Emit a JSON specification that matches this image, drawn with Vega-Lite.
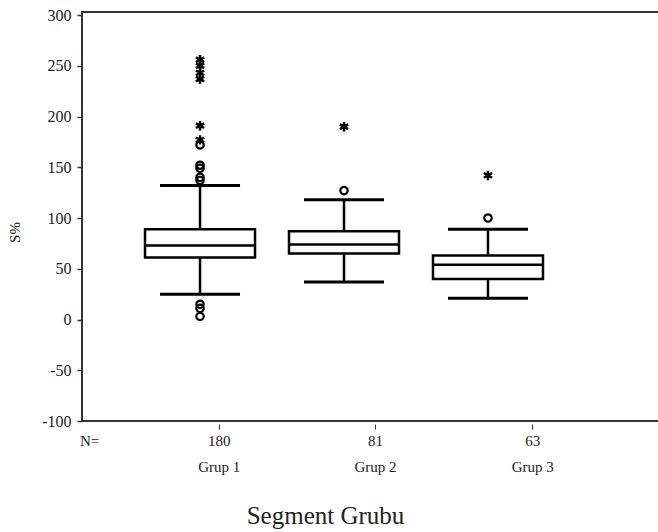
{
  "$schema": "https://vega.github.io/schema/vega-lite/v6.json",
  "autosize": {"type": "none"},
  "padding": {"left": 82, "top": 12, "right": 0, "bottom": 111},
  "width": 578,
  "height": 409,
  "background": "white",
  "config": {
    "view": {"stroke": "#333333", "strokeWidth": 2},
    "font": "Liberation Serif",
    "axis": {"labelFont": "Liberation Serif", "titleFont": "Liberation Serif"}
  },
  "datasets": {
    "box": [
      {"grup": 1, "n": 180, "lo": 25, "q1": 61, "med": 73, "q3": 89, "hi": 132},
      {"grup": 2, "n": 81, "lo": 37, "q1": 65, "med": 74, "q3": 87, "hi": 118},
      {"grup": 3, "n": 63, "lo": 21, "q1": 40, "med": 54, "q3": 63, "hi": 89}
    ],
    "out": [
      {"grup": 1, "v": 256, "kind": "extreme"},
      {"grup": 1, "v": 250, "kind": "extreme"},
      {"grup": 1, "v": 243, "kind": "extreme"},
      {"grup": 1, "v": 237, "kind": "extreme"},
      {"grup": 1, "v": 191, "kind": "extreme"},
      {"grup": 1, "v": 177, "kind": "extreme"},
      {"grup": 1, "v": 172, "kind": "outlier"},
      {"grup": 1, "v": 152, "kind": "outlier"},
      {"grup": 1, "v": 149, "kind": "outlier"},
      {"grup": 1, "v": 140, "kind": "outlier"},
      {"grup": 1, "v": 137, "kind": "outlier"},
      {"grup": 1, "v": 15, "kind": "outlier"},
      {"grup": 1, "v": 11, "kind": "outlier"},
      {"grup": 1, "v": 3, "kind": "outlier"},
      {"grup": 2, "v": 190, "kind": "extreme"},
      {"grup": 2, "v": 127, "kind": "outlier"},
      {"grup": 3, "v": 142, "kind": "extreme"},
      {"grup": 3, "v": 100, "kind": "outlier"}
    ]
  },
  "encoding": {
    "x": {
      "field": "grup",
      "type": "quantitative",
      "scale": {"domain": [0.215, 4.16], "nice": false, "zero": false},
      "axis": {
        "values": [0.229, 1.13, 2.215, 3.307],
        "domain": false,
        "grid": false,
        "offset": 3,
        "tickSize": 5,
        "tickWidth": 1,
        "tickColor": "#333333",
        "tickOpacity": {"condition": {"test": "datum.value < 0.5", "value": 0}, "value": 1},
        "labelFontSize": 15,
        "labelColor": "#222222",
        "labelPadding": 4,
        "labelLineHeight": 26,
        "labelBaseline": "top",
        "labelFlush": false,
        "labelOverlap": false,
        "labelExpr": "datum.value < 0.5 ? ['N=', ''] : datum.value < 1.5 ? ['180', 'Grup 1'] : datum.value < 2.5 ? ['81', 'Grup 2'] : ['63', 'Grup 3']",
        "title": "Segment Grubu",
        "titleFontSize": 25,
        "titleFontWeight": "normal",
        "titleColor": "#222222",
        "titleX": 243,
        "titleY": 99,
        "titleBaseline": "alphabetic",
        "titleAnchor": "middle"
      }
    }
  },
  "layer": [
    {
      "data": {"name": "box"},
      "mark": {"type": "rule", "color": "black", "strokeWidth": 2.5},
      "encoding": {
        "y": {
          "field": "lo",
          "type": "quantitative",
          "scale": {"domain": [-100, 303], "nice": false, "zero": false},
          "axis": {
            "values": [-100, -50, 0, 50, 100, 150, 200, 250, 300],
            "labelExpr": "replace(datum.label, '\u2212', '-')",
            "domain": false,
            "grid": false,
            "tickSize": 5,
            "tickWidth": 1.5,
            "tickColor": "#333333",
            "labelFontSize": 16,
            "labelColor": "#222222",
            "labelPadding": 6,
            "title": "S%",
            "titleFontSize": 15,
            "titleFontWeight": "normal",
            "titleColor": "#222222",
            "titleX": -68,
            "titleY": 220,
            "titleAngle": -90,
            "titleBaseline": "middle",
            "titleAlign": "center"
          }
        },
        "y2": {"field": "q1"}
      }
    },
    {
      "data": {"name": "box"},
      "mark": {"type": "rule", "color": "black", "strokeWidth": 2.5},
      "encoding": {
        "y": {"field": "q3", "type": "quantitative"},
        "y2": {"field": "hi"}
      }
    },
    {
      "data": {"name": "box"},
      "mark": {"type": "bar", "size": 110, "orient": "vertical", "fill": "white", "stroke": "black", "strokeWidth": 2.5},
      "encoding": {
        "y": {"field": "q1", "type": "quantitative"},
        "y2": {"field": "q3"}
      }
    },
    {
      "data": {"name": "box"},
      "mark": {"type": "tick", "orient": "horizontal", "size": 110, "thickness": 2.5, "color": "black", "opacity": 1},
      "encoding": {"y": {"field": "med", "type": "quantitative"}}
    },
    {
      "data": {"name": "box"},
      "mark": {"type": "tick", "orient": "horizontal", "size": 80, "thickness": 3, "color": "black", "opacity": 1},
      "encoding": {"y": {"field": "lo", "type": "quantitative"}}
    },
    {
      "data": {"name": "box"},
      "mark": {"type": "tick", "orient": "horizontal", "size": 80, "thickness": 3, "color": "black", "opacity": 1},
      "encoding": {"y": {"field": "hi", "type": "quantitative"}}
    },
    {
      "data": {"name": "out"},
      "transform": [{"filter": "datum.kind == 'outlier'"}],
      "mark": {"type": "point", "shape": "circle", "size": 55, "filled": false, "stroke": "black", "strokeWidth": 2.2, "opacity": 1},
      "encoding": {"y": {"field": "v", "type": "quantitative"}}
    },
    {
      "data": {"name": "out"},
      "transform": [{"filter": "datum.kind == 'extreme'"}],
      "mark": {"type": "point", "shape": "M0,-1L0,1M-0.87,-0.5L0.87,0.5M-0.87,0.5L0.87,-0.5", "size": 90, "filled": false, "stroke": "black", "strokeWidth": 2.5, "opacity": 1},
      "encoding": {"y": {"field": "v", "type": "quantitative"}}
    }
  ]
}
